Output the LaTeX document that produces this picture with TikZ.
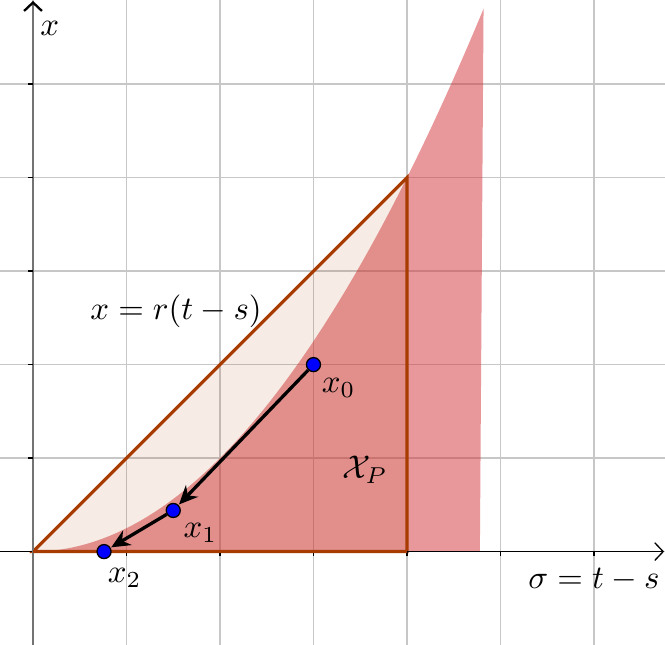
\documentclass[tikz,border=0pt]{standalone}
\usepackage{amsmath}
\usepackage{amssymb}
\usetikzlibrary{arrows.meta, calc, positioning}

\definecolor{edgebrown}{RGB}{168,60,0}
\definecolor{regionred}{RGB}{210,50,55}
\definecolor{pointblue}{RGB}{0,0,255}

\begin{document}
\begin{tikzpicture}[
    font=\normalsize,
    gridline/.style={
        draw=black!22, line width=0.5pt
    },
    axis/.style={
        -{Straight Barb[length=0.9mm, width=1.9mm, color=black]},
        black, line width=0.4pt
    },
    region/.style={
        fill=regionred, fill opacity=0.5
    },
    simplex/.style={
        draw=edgebrown, line width=1pt, line join=miter,
        fill=edgebrown, fill opacity=0.1
    },
    iterate/.style={
        circle, draw=black, fill=pointblue, line width=0.4pt,
        inner sep=0pt, minimum size=1.5mm
    },
    step arrow/.style={
        -{Stealth[length=2mm, width=1.8mm]}, line width=1pt, black,
        shorten >=0.2pt
    }
]
\useasboundingbox (-0.353,-0.995) rectangle (6.76,5.9);

\draw[gridline] (-0.353,-0.995) grid (6.76,5.9);

\fill[region] plot[domain=0:4.82, samples=60] (\x,{\x*\x/4})
    -- (4.78,0) -- cycle;
\draw[simplex] (0,0) -- (4,4) -- (4,0) -- cycle;

\draw[axis] (-0.353,0) -- (6.75,0);
\draw[axis, draw=black!55, line width=0.7pt] (0,-0.995) -- (0,5.89);
\foreach \k in {1,...,6} {
    \draw (\k,0) -- (\k,-0.05);
}
\foreach \k in {1,...,5} {
    \draw (0,\k) -- (-0.05,\k);
}
\draw[edgebrown, line width=1pt] (0,0) -- (4,0);

\node (xlab) at (0.18,5.6) {$x$};
\node (sigmalab) at (6.0,-0.30) {$\sigma = t - s$};
\node (linelab) at (1.53,2.57) {$x = r(t-s)$};
\node (setlab) at (3.55,0.88) {$\mathcal{X}_P$};

\node[iterate] (p0) at (3,2) {};
\node[iterate] (p1) at (1.5,0.44) {};
\node[iterate] (p2) at (0.76,0) {};

\draw[step arrow] (p0) -- (p1);
\draw[step arrow] (p1) -- (p2);

\node (p0lab) at (3.27,1.75) {$x_0$};
\node (p1lab) at (1.79,0.20) {$x_1$};
\node (p2lab) at (0.98,-0.28) {$x_2$};
\end{tikzpicture}
\end{document}
